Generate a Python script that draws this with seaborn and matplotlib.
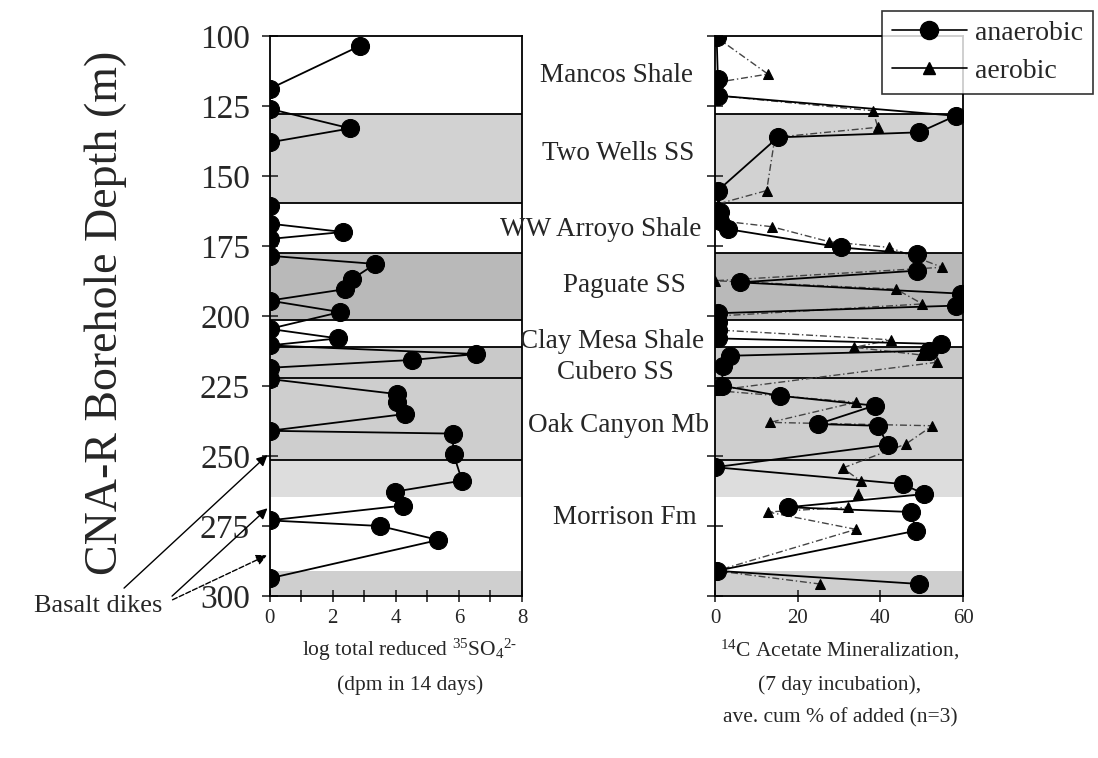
import matplotlib
matplotlib.use("Agg")
import matplotlib.pyplot as plt
import seaborn as sns
from matplotlib.transforms import blended_transform_factory
from matplotlib.lines import Line2D

# ---------------- data ----------------
# Left panel: log total reduced 35SO4 (dpm in 14 days) vs depth (m)
so4_depth = [103.5, 118.9, 126, 133, 138, 160.6, 167, 170, 172.5, 178.5,
             181.4, 186.8, 190.4, 194.5, 198.6, 204.6, 208, 210.5, 213.6, 215.7,
             218.5, 222.5, 227.9, 230.8, 235, 241, 242, 249.3, 258.8, 262.7,
             267.7, 273, 275, 280, 293.7]
so4_value = [2.87, 0, 0, 2.56, 0, 0, 0, 2.33, 0, 0,
             3.35, 2.62, 2.4, 0, 2.24, 0, 2.17, 0, 6.55, 4.5,
             0, 0, 4.05, 4.05, 4.3, 0, 5.8, 5.83, 6.1, 3.98,
             4.24, 0, 3.5, 5.35, 0]

# Right panel: 14C acetate mineralization (% of added)
an_depth = [100.5, 115.4, 121.3, 128.5, 134.4, 136.2, 155.2, 162.9, 166, 169,
            175.5, 177.9, 183.8, 188, 192, 196.3, 199, 202, 205, 208,
            210, 212.4, 214.2, 217.7, 224.9, 228.5, 232, 238.6, 239.2, 246,
            254, 260, 263.6, 268.3, 270, 276.7, 291, 295.7]
an_value = [0.4, 0.7, 0.7, 58.2, 49.4, 15.2, 0.7, 1.2, 1.2, 3.2,
            30.5, 48.9, 48.9, 6, 59.4, 58.2, 0.7, 0.7, 0.7, 0.7,
            54.6, 51.8, 3.6, 2, 1.6, 15.7, 38.6, 24.9, 39.4, 41.8,
            0, 45.4, 50.6, 17.7, 47.4, 48.6, 0.4, 49.4]

ae_depth = [100.5, 113.6, 116.5, 121.3, 126.7, 132.6, 136.2, 155.2, 160, 166,
            168.1, 173.5, 175.5, 182.6, 187.4, 190.4, 195.7, 200, 205, 208.5,
            211.2, 213.9, 216.5, 226.6, 230.8, 238, 239.2, 245.7, 254.3, 259,
            263.6, 268.3, 270, 276.2, 291, 295.7]
ae_value = [0.4, 12.8, 0.7, 0.7, 38.2, 39.4, 14.5, 12.5, 0.7, 1.2,
            13.7, 27.7, 42.2, 55, 0, 43.8, 50.2, 0.7, 0.7, 42.6,
            33.7, 49.8, 53.8, 0, 34.1, 13.3, 52.6, 46.2, 30.9, 35.3,
            34.5, 32.1, 12.8, 34.1, 0.4, 25.3]

# Stratigraphy
boundary_depths = [128, 159.5, 177.5, 201.4, 211.2, 222.2, 251.6]
shade_tops = [128, 177.5, 211.2, 222.2, 251.6, 291]
shade_bottoms = [159.5, 201.4, 222.2, 251.6, 264.5, 300]
shade_colors = ["#d2d2d2", "#b9b9b9", "#c9c9c9", "#cecece", "#dddddd", "#cfcfcf"]

formation_names = ["Mancos Shale", "Two Wells SS", "WW Arroyo Shale", "Paguate SS",
                   "Clay Mesa Shale", "Cubero SS", "Oak Canyon Mb", "Morrison Fm"]
formation_label_depth = [114, 142, 169, 189, 209, 220, 239, 272]

dike_depths = [249, 268, 285]

depth_ticks = [100, 125, 150, 175, 200, 225, 250, 275, 300]
so4_ticks = [0, 1, 2, 3, 4, 5, 6, 7, 8]
so4_ticklabels = ["0", "", "2", "", "4", "", "6", "", "8"]
ace_ticks = [0, 20, 40, 60]

# ---------------- style ----------------
sns.set_style("ticks")
plt.rcParams["font.family"] = ["Liberation Serif", "DejaVu Serif"]
plt.rcParams["mathtext.fontset"] = "custom"
plt.rcParams["mathtext.rm"] = "Liberation Serif"
plt.rcParams["mathtext.it"] = "Liberation Serif:italic"
plt.rcParams["mathtext.default"] = "regular"

W, H = 1098, 758
fig = plt.figure(figsize=(W / 100, H / 100), dpi=100)
top_px, bot_px = 36, 596
ax1 = fig.add_axes([269.5 / W, 1 - bot_px / H, (522 - 269.5) / W, (bot_px - top_px) / H])
ax2 = fig.add_axes([715 / W, 1 - bot_px / H, (963 - 715) / W, (bot_px - top_px) / H])

for ax, xmax in ((ax1, 8), (ax2, 60)):
    for t, b, c in zip(shade_tops, shade_bottoms, shade_colors):
        ax.axhspan(t, b, color=c, lw=0, zorder=0)
    for d in boundary_depths:
        ax.axhline(d, color="black", lw=1.3, zorder=1)
    ax.set_ylim(300, 100)
    ax.set_xlim(0, xmax)
    for s in ax.spines.values():
        s.set_color("black")
        s.set_linewidth(1.3)

# left panel
sns.lineplot(x=so4_value, y=so4_depth, sort=False, estimator=None, ax=ax1,
             color="black", lw=1.3, marker="o", markersize=13,
             markeredgecolor="black", zorder=3)
ax1.set_yticks(depth_ticks)
ax1.set_yticklabels([str(v) for v in depth_ticks], fontsize=24)
ax1.set_xticks(so4_ticks)
ax1.set_xticklabels(so4_ticklabels, fontsize=15)
ax1.tick_params(axis="y", direction="inout", length=12, width=1.2, pad=8)
ax1.tick_params(axis="x", direction="inout", length=9, width=1.2, pad=5)
ax1.set_xlabel("")
ax1.set_ylabel("")

# right panel
sns.lineplot(x=ae_value, y=ae_depth, sort=False, estimator=None, ax=ax2,
             color="#444444", lw=1.0, linestyle=(0, (5, 2, 1, 2)), marker="^",
             markersize=7, markerfacecolor="black", markeredgecolor="black",
             zorder=3)
sns.lineplot(x=an_value, y=an_depth, sort=False, estimator=None, ax=ax2,
             color="black", lw=1.3, marker="o", markersize=13,
             markeredgecolor="black", zorder=4)
ax2.set_yticks(depth_ticks)
ax2.set_yticklabels([])
ax2.set_xticks(ace_ticks)
ax2.set_xticklabels([str(v) for v in ace_ticks], fontsize=15)
ax2.tick_params(axis="y", direction="inout", length=12, width=1.2)
ax2.tick_params(axis="x", direction="inout", length=9, width=1.2, pad=5)
ax2.set_xlabel("")
ax2.set_ylabel("")

# legend
handles = [Line2D([], [], color="black", lw=1.2, marker="o", markersize=13),
           Line2D([], [], color="black", lw=1.2, marker="^", markersize=8)]
leg = fig.legend(handles, ["anaerobic", "aerobic"], loc="upper right",
                 bbox_to_anchor=(1093 / W, 1 - 11 / H), bbox_transform=fig.transFigure,
                 fontsize=20, frameon=True, fancybox=False, edgecolor="black",
                 handlelength=2.7, borderpad=0.35, labelspacing=0.45,
                 handletextpad=0.3, borderaxespad=0)
leg.get_frame().set_linewidth(1.2)

# formation labels between panels
trans = blended_transform_factory(fig.transFigure, ax1.transData)
formation_x = [617, 618, 601, 624, 612, 615, 619, 625]
for name, d, xp in zip(formation_names, formation_label_depth, formation_x):
    fig.text(xp / W, d, name, transform=trans, ha="center", va="center", fontsize=19.5)

# axis labels
fig.text(106 / W, 1 - 313 / H, "CNA-R Borehole Depth (m)",
         rotation=90, ha="center", va="center", fontsize=33)
fig.text(410 / W, 1 - 650 / H, r"log total reduced $^{35}$SO$_{4}$$^{2\text{-}}$",
         ha="center", va="center", fontsize=15.5)
fig.text(410 / W, 1 - 685 / H, "(dpm in 14 days)", ha="center", va="center", fontsize=15.5)
fig.text(840 / W, 1 - 650 / H, r"$^{14}$C Acetate Mineralization,", ha="center",
         va="center", fontsize=15.5)
fig.text(840 / W, 1 - 685 / H, "(7 day incubation),", ha="center", va="center", fontsize=15.5)
fig.text(840 / W, 1 - 718 / H, "ave. cum % of added (n=3)", ha="center", va="center",
         fontsize=15.5)

# basalt dikes
fig.text(98 / W, 1 - 606 / H, "Basalt dikes", ha="center", va="center", fontsize=19)
tails = [(122, 590), (170, 598), (170, 601)]
styles = ["-", "-", "--"]
for d, (tx, ty), ls in zip(dike_depths, tails, styles):
    ax1.annotate("", xy=(0, d), xycoords="data", xytext=(tx / W, 1 - ty / H),
                 textcoords="figure fraction", annotation_clip=False,
                 arrowprops=dict(arrowstyle="-|>", color="black", lw=1.0,
                                 linestyle=ls, mutation_scale=16))

fig.savefig("out.png", dpi=100)
